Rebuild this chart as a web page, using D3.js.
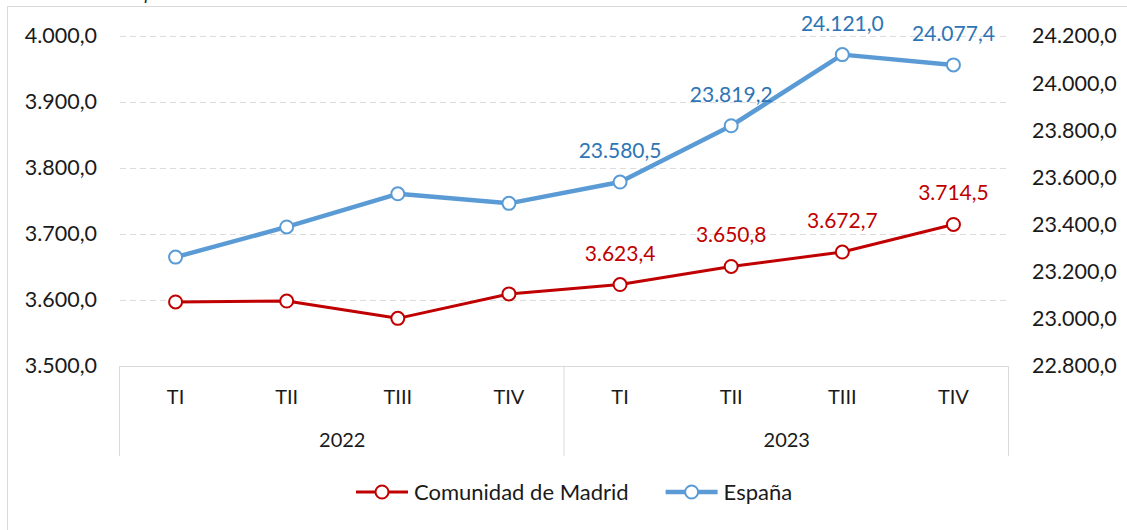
<!DOCTYPE html>
<html>
<head>
<meta charset="utf-8">
<script src="https://cdn.jsdelivr.net/npm/d3@7"></script>
<style>
    body { margin: 0; background: #fff; }
    text { font-family: Lato, sans-serif; }
</style>
</head>
<body>
<script>
var quarters = ["TI", "TII", "TIII", "TIV", "TI", "TII", "TIII", "TIV"];
var years = ["2022", "2023"];
var madrid = [3597.0, 3598.4, 3572.2, 3609.2, 3623.4, 3650.8, 3672.7, 3714.5];
var espana = [23262.0, 23390.0, 23530.5, 23490.0, 23580.5, 23819.2, 24121.0, 24077.4];
var leftTicks = [3500, 3600, 3700, 3800, 3900, 4000];
var rightTicks = [22800, 23000, 23200, 23400, 23600, 23800, 24000, 24200];
var labelFrom = 4; // only 2023 points get a data label

var w = 1127;
var h = 530;
var plotL = 120, plotR = 1009, plotT = 36, plotB = 366;
var red = "#C00000", blue = "#5B9BD5";

var es = d3.formatLocale({decimal: ",", thousands: ".", grouping: [3], currency: ["", ""]});
var fmt = es.format(",.1f");

var svg = d3.select("body")
        .append("svg")
        .attr("width", w)
        .attr("height", h);

// chart frame (cut by the picture edges)
svg.append("rect")
    .attr("x", 7.5).attr("y", 6.5)
    .attr("width", 1140).attr("height", 540)
    .attr("fill", "none")
    .attr("stroke", "#d9d9d9");

svg.append("text")
    .attr("x", 0).attr("y", 0)
    .attr("font-size", "18px")
    .attr("font-style", "italic")
    .attr("fill", "#222")
    .text("Unidades: Miles de personas");

var x = d3.scaleBand()
        .domain(d3.range(quarters.length))
        .range([plotL, plotR]);

var yL = d3.scaleLinear().domain([3500, 4000]).range([plotB, plotT]);
var yR = d3.scaleLinear().domain([22800, 24200]).range([plotB, plotT]);

// grid
svg.append("g")
    .selectAll("line")
    .data(leftTicks.slice(1))
    .enter()
    .append("line")
    .attr("x1", plotL).attr("x2", plotR)
    .attr("y1", function(d) { return Math.round(yL(d)) + 0.5; })
    .attr("y2", function(d) { return Math.round(yL(d)) + 0.5; })
    .attr("stroke", "#dcdcdc")
    .attr("stroke-dasharray", "6,4");

svg.append("g")
    .attr("transform", "translate(" + plotL + ",0)")
    .call(d3.axisLeft(yL).tickValues(leftTicks).tickSize(0).tickPadding(23).tickFormat(fmt));
svg.append("g")
    .attr("transform", "translate(" + plotR + ",0)")
    .call(d3.axisRight(yR).tickValues(rightTicks).tickSize(0).tickPadding(23).tickFormat(fmt));

svg.selectAll(".domain").remove();
svg.selectAll(".tick text")
    .attr("font-family", "Lato, sans-serif")
    .attr("font-size", "21.5px")
    .attr("fill", "#1a1a1a");

// category axis
var gx = svg.append("g");
gx.append("line")
    .attr("x1", plotL).attr("x2", plotR)
    .attr("y1", plotB + 0.5).attr("y2", plotB + 0.5)
    .attr("stroke", "#d9d9d9");

gx.selectAll("line.sep")
    .data([0, 4, 8])
    .enter()
    .append("line")
    .attr("class", "sep")
    .attr("x1", function(d) { return d < 8 ? x(d) - 0.5 : plotR - 0.5; })
    .attr("x2", function(d) { return d < 8 ? x(d) - 0.5 : plotR - 0.5; })
    .attr("y1", plotB).attr("y2", 456)
    .attr("stroke", "#d9d9d9");

gx.selectAll("text.q")
    .data(quarters)
    .enter()
    .append("text")
    .attr("class", "q")
    .attr("x", function(d, i) { return x(i) + x.bandwidth() / 2; })
    .attr("y", 404)
    .attr("text-anchor", "middle")
    .attr("font-size", "20px")
    .attr("fill", "#1a1a1a")
    .text(function(d) { return d; });

gx.selectAll("text.yr")
    .data(years)
    .enter()
    .append("text")
    .attr("class", "yr")
    .attr("x", function(d, i) { return x(i * 4) + x.bandwidth() * 2; })
    .attr("y", 447)
    .attr("text-anchor", "middle")
    .attr("font-size", "20px")
    .attr("fill", "#1a1a1a")
    .text(function(d) { return d; });

function cx(d, i) { return x(i) + x.bandwidth() / 2; }

function drawSeries(data, y, color, width, labelColor) {
    var line = d3.line()
        .x(function(d, i) { return cx(d, i); })
        .y(function(d) { return y(d); });

    svg.append("path")
        .datum(data)
        .attr("d", line)
        .attr("fill", "none")
        .attr("stroke", color)
        .attr("stroke-width", width)
        .attr("stroke-linejoin", "round");

    svg.append("g")
        .selectAll("circle")
        .data(data)
        .enter()
        .append("circle")
        .attr("cx", cx)
        .attr("cy", function(d) { return y(d); })
        .attr("r", 6.5)
        .attr("fill", "#fff")
        .attr("stroke", color)
        .attr("stroke-width", 2);

    svg.append("g")
        .selectAll("text")
        .data(data)
        .enter()
        .append("text")
        .filter(function(d, i) { return i >= labelFrom; })
        .attr("x", function(d) { return cx(d, data.indexOf(d)); })
        .attr("y", function(d) { return y(d) - 24; })
        .attr("text-anchor", "middle")
        .attr("font-size", "21px")
        .attr("fill", labelColor)
        .text(function(d) { return fmt(d); });
}

drawSeries(madrid, yL, red, 3, "#C00000");
drawSeries(espana, yR, blue, 4.5, "#2E75B6");

// legend
var legend = [
    {name: "Comunidad de Madrid", color: red, width: 3},
    {name: "España", color: blue, width: 4.5}
];
var lg = svg.append("g");
var pos = 356;
legend.forEach(function(d, i) {
    var g = lg.append("g").attr("transform", "translate(" + pos + ",492)");
    g.append("line")
        .attr("x1", 0).attr("x2", 52)
        .attr("stroke", d.color)
        .attr("stroke-width", d.width);
    g.append("circle")
        .attr("cx", 26).attr("r", 6.5)
        .attr("fill", "#fff")
        .attr("stroke", d.color)
        .attr("stroke-width", 2);
    var t = g.append("text")
        .attr("x", 58).attr("y", 8)
        .attr("font-size", "22px")
        .attr("fill", "#1a1a1a")
        .text(d.name);
    pos += 58 + t.node().getComputedTextLength() + 37;
});
</script>
</body>
</html>
